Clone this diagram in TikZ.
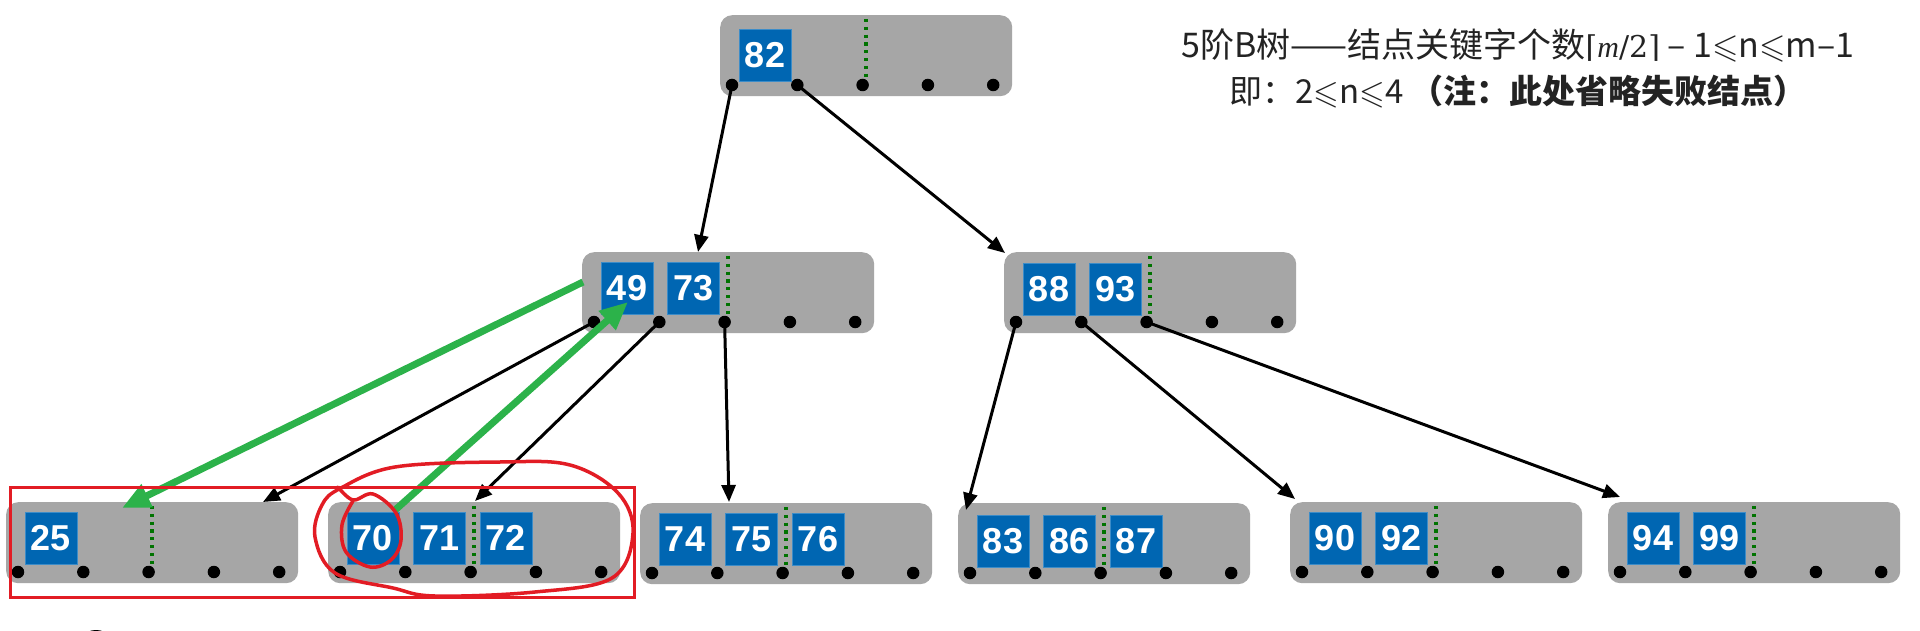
\documentclass[tikz,border=0pt]{standalone}
\usepackage{amssymb}
\usepackage{fontspec}
\usetikzlibrary{arrows.meta}
\newfontfamily\numfont{Liberation Sans}
\newfontfamily\cjkfont{Noto Sans CJK SC}
\newfontfamily\serfont{DejaVu Serif}
\newfontfamily\seritfont{Liberation Serif}
\definecolor{keyblue}{RGB}{0,102,178}
\definecolor{keyedge}{RGB}{60,140,200}
\definecolor{boxgray}{RGB}{166,166,166}
\definecolor{gdotc}{RGB}{0,115,0}
\definecolor{garc}{RGB}{44,178,74}
\definecolor{redc}{RGB}{226,28,36}
\definecolor{tcol}{RGB}{35,35,35}
\tikzset{
 graybox/.style={fill=boxgray, rounded corners=12pt, minimum width=292pt, minimum height=81pt, inner sep=0pt, draw=none},
 keybox/.style={fill=keyblue, draw=keyedge, line width=0.6pt, minimum width=52pt, minimum height=52pt, inner sep=0pt, text=white, font=\numfont\bfseries\fontsize{36}{36}\selectfont},
 ptr/.style={circle, fill=black, minimum size=12.5pt, inner sep=0pt},
 gdot/.style={draw=gdotc, line width=3.4pt, dash pattern=on 3.2pt off 4.6pt},
 barrow/.style={draw=black, line width=3pt, -{Triangle[length=17pt,width=14pt]}},
 garrow/.style={draw=garc, line width=7pt, -{Triangle[length=28pt,width=24pt]}},
 redline/.style={draw=redc, line width=3.5pt, line cap=round, line join=round},
 txtA/.style={text=tcol, inner sep=0pt, font=\cjkfont\fontsize{34}{34}\selectfont},
 txtB/.style={text=tcol, inner sep=0pt, font=\cjkfont\fontsize{33}{33}\selectfont},
}
\newcommand\btnode[5]{%
 \node[graybox, anchor=north west] (#1) at (#2,#3) {};
 \draw[gdot] (#2+146,#3+4) -- (#2+146,#3+64);
 \foreach \k [count=\i from 0] in {#4} {\node[keybox] (#1-k\i) at ({#2+45+66.5*\i},{#3+#5}) {\k};}
 \foreach \i in {0,...,4} {\node[ptr] (#1-p\i) at ({#2+12+65.3*\i},{#3+70}) {};}
}
\begin{document}
\begin{tikzpicture}[x=1pt,y=-1pt]
\useasboundingbox (0,0) rectangle (1920,631);
\fill[white] (0,0) rectangle (1920,631);
% tree nodes
\btnode{r}{720}{15}{82}{40}
\btnode{a}{582}{252}{49,73}{36}
\btnode{b}{1004}{252}{88,93}{37}
\btnode{l1}{6}{502}{25}{36}
\btnode{l2}{328}{502}{70,71,72}{36}
\btnode{l3}{640}{503}{74,75,76}{36}
\btnode{l4}{958}{503}{83,86,87}{38}
\btnode{l5}{1290}{502}{90,92}{36}
\btnode{l6}{1608}{502}{94,99}{36}
% arrow targets
\coordinate (a-in) at (698,252);
\coordinate (b-in) at (1005,253);
\coordinate (l1-in) at (263,502);
\coordinate (l2-in) at (475,501);
\coordinate (l3-in) at (729,502);
\coordinate (l4-in) at (966,510);
\coordinate (l5-in) at (1295,499);
\coordinate (l6-in) at (1620,497);
\coordinate (g1s) at (583,282);
\coordinate (g1e) at (122,508);
\coordinate (g2s) at (394,511);
\coordinate (g2e) at (628,302);
% black arrows
\draw[barrow] (r-p0.center) -- (a-in);
\draw[barrow] (r-p1.center) -- (b-in);
\draw[barrow] (a-p0.center) -- (l1-in);
\draw[barrow] (a-p1.center) -- (l2-in);
\draw[barrow] (a-p2.center) -- (l3-in);
\draw[barrow] (b-p0.center) -- (l4-in);
\draw[barrow] (b-p1.center) -- (l5-in);
\draw[barrow] (b-p2.center) -- (l6-in);
% green arrows
\draw[garrow] (g1s) -- (g1e);
\draw[garrow] (g2s) -- (g2e);
% red marks
\draw[draw=redc, line width=3pt] (10,487) rectangle (634,597);
\draw[redline] plot[smooth cycle, tension=0.6] coordinates {(341,488) (395,467) (500,462) (570,465) (618,493) (633,533) (612,578) (535,592) (435,596) (393,588) (335,573) (315,537) (322,505)};
\draw[redline] plot[smooth, tension=0.6] coordinates {(338,487) (353,500) (373,494) (396,513) (401,540) (391,560) (370,567) (346,552) (342,525) (353,501)};
% partial shapes at the bottom edge
\begin{scope}
\clip (0,0) rectangle (1920,631);
\fill[black] (96,650) circle[radius=20pt];
\fill[gray!60] (144,652) circle[radius=18pt];
\end{scope}
% caption text
\node[txtA] (t1) at (1518,45) {5阶B树——结点关键字个数{\serfont\fontsize{30}{30}\selectfont ⌈{\seritfont\itshape m}/2⌉} – 1$\leqslant$n$\leqslant$m–1};
\node[txtB] (t2) at (1518,92) {即：2$\leqslant$n$\leqslant$4 \textbf{（注：此处省略失败结点）}};
\end{tikzpicture}
\end{document}
